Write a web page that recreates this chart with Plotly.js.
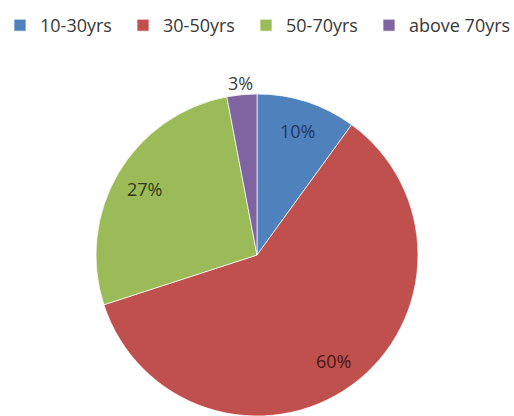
<!DOCTYPE html>
<html>
<head>
<meta charset="utf-8">
<script src="https://cdn.plot.ly/plotly-3.0.1.min.js"></script>
<style>
  html, body { margin: 0; padding: 0; background: #ffffff; overflow: hidden; }
  #chart { width: 514px; height: 416px; }
</style>
</head>
<body>
<div id="chart"></div>
<script>
// Age groups and their shares (%)
const ageGroups = ['10-30yrs', '30-50yrs', '50-70yrs', 'above 70yrs'];
const shares = [10, 60, 27, 3];
const sliceColors = ['#4F81BD', '#C0504D', '#9BBB59', '#8064A2'];
const labelColors = ['#1F3864', '#4A1513', '#2F3B12', '#404040'];

const W = 514, H = 416;
const FONT = '"Open Sans", "Liberation Sans", sans-serif';

// Pie placement in pixels
const cx = 257, cy = 255, R = 161;

const trace = {
  type: 'pie',
  labels: ageGroups,
  values: shares,
  sort: false,
  direction: 'clockwise',
  rotation: 0,
  textinfo: 'none',
  hoverinfo: 'skip',
  marker: { colors: sliceColors, line: { color: 'rgba(255,255,255,0.7)', width: 1 } },
  domain: { x: [(cx - R) / W, (cx + R) / W], y: [(H - cy - R) / H, (H - cy + R) / H] }
};

// Percentage labels placed at each slice's mid-angle
const total = shares.reduce((a, b) => a + b, 0);
const annotations = [];
let cum = 0;
shares.forEach((v, i) => {
  const frac = v / total;
  const theta = 2 * Math.PI * (cum + frac / 2);
  cum += frac;
  const rf = frac < 0.05 ? 1.07 : 0.81;
  const px = cx + R * rf * Math.sin(theta);
  const py = cy - R * rf * Math.cos(theta);
  annotations.push({
    xref: 'paper', yref: 'paper',
    x: px / W, y: 1 - py / H,
    xanchor: 'center', yanchor: 'middle',
    text: Math.round(frac * 100) + '%',
    showarrow: false,
    font: { family: FONT, size: 18, color: labelColors[i] }
  });
});

const layout = {
  width: W, height: H,
  margin: { l: 0, r: 0, t: 0, b: 0 },
  paper_bgcolor: '#ffffff',
  font: { family: FONT },
  showlegend: true,
  legend: {
    orientation: 'h',
    x: 0, xanchor: 'left',
    y: 1 - 7 / H, yanchor: 'top',
    font: { family: FONT, size: 18, color: '#383838' },
    entrywidth: 78, entrywidthmode: 'pixels',
    traceorder: 'normal',
    bgcolor: 'rgba(0,0,0,0)'
  },
  annotations: annotations
};

Plotly.newPlot('chart', [trace], layout, { staticPlot: true, displayModeBar: false })
  .then(function (gd) {
    // let the last legend entry run past its fixed entry width
    gd.querySelectorAll('.legend .scrollbox').forEach(function (el) {
      el.removeAttribute('clip-path');
    });
  });
</script>
</body>
</html>
